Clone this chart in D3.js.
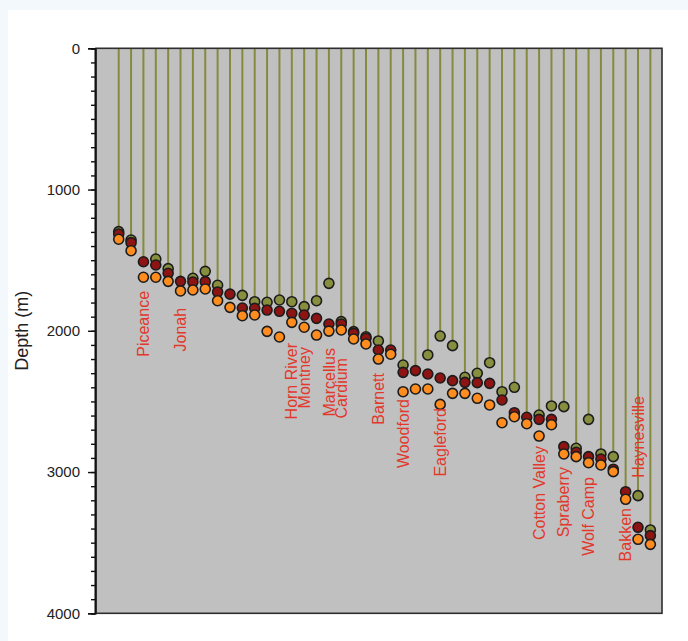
<!DOCTYPE html>
<html>
<head>
<meta charset="utf-8">
<script src="https://cdn.jsdelivr.net/npm/d3@7/dist/d3.min.js"></script>
<style>
  html, body { margin: 0; padding: 0; background: #f3f8fc; }
  svg { display: block; }
  text { font-family: "Liberation Sans", Arial, sans-serif; }
</style>
</head>
<body>
<svg id="chart" width="688" height="641"></svg>
<script>
// Depth (m) of three markers per well; null where a marker is absent
const wells = d3.range(44);
const olive = [1298, 1357, null, 1492, 1560, null, 1628, 1579, 1678, null, 1749, 1794, 1798, 1782,
  1794, 1829, 1787, 1664, 1935, 2006, 2042, 2072, null, 2242, null, 2171, 2037, 2105, 2329, 2301,
  2226, 2431, 2400, null, 2596, 2532, 2537, 2832, 2627, 2872, 2891, null, 3167, 3410];
const darkRed = [1315, 1376, 1511, 1534, 1593, 1650, 1655, 1652, 1725, 1740, 1839, 1841, 1853, 1862,
  1876, 1888, 1912, 1952, 1952, 2018, 2053, 2136, 2136, 2294, 2282, 2306, 2334, 2353, 2365, 2367,
  2372, 2490, 2580, 2612, 2627, 2627, 2820, 2860, 2891, 2908, 2980, 3139, 3391, 3450];
const orange = [1352, 1433, 1621, 1621, 1650, 1718, 1711, 1704, 1787, 1834, 1893, 1888, 2004, 2044,
  1940, 1975, 2030, 2002, 1994, 2058, 2093, 2200, 2166, 2431, 2412, 2412, 2521, 2443, 2443, 2478,
  2525, 2651, 2608, 2658, 2745, 2665, 2872, 2891, 2934, 2950, 2997, 3193, 3476, 3512];

// Play names: well they sit under, and depth where the label text ends
const playNames = ["Piceance", "Jonah", "Horn River", "Montney", "Marcellus", "Cardium", "Barnett",
  "Woodford", "Eagleford", "Cotton Valley", "Spraberry", "Wolf Camp", "Bakken", "Haynesville"];
const playWell = [2, 5, 14, 15, 17, 18, 21, 23, 26, 34, 36, 38, 41, 42];
const playTop = [1718, 1838, 2086, 2115, 2122, 2193, 2299, 2483, 2547, 2816, 2964, 3035, 3255, 2462];

const majorTicks = [0, 1000, 2000, 3000, 4000];
const minorTicks = d3.range(0, 4001, 100);

const svg = d3.select("#chart");
svg.append("rect").attr("x", 8).attr("y", 10).attr("width", 680).attr("height", 631).attr("fill", "#ffffff");

const plotL = 96, plotR = 662, plotT = 48.3, plotB = 613.3;
const x = d3.scaleLinear().domain([-1.836, 43.94]).range([plotL, plotR]);
const y = d3.scaleLinear().domain([0, 4000]).range([plotT, plotB]);

svg.append("rect")
  .attr("x", plotL).attr("y", plotT)
  .attr("width", plotR - plotL).attr("height", plotB - plotT)
  .attr("fill", "#c0c0c0");

// stems from the surface down to the shallowest marker of each well
const shallowest = wells.map(i => d3.min([olive[i], darkRed[i], orange[i]].filter(v => v != null)));
svg.append("g").selectAll("line").data(wells).join("line")
  .attr("x1", i => x(i)).attr("x2", i => x(i))
  .attr("y1", y(0)).attr("y2", i => y(shallowest[i]))
  .attr("stroke", "#858a3e").attr("stroke-width", 2);

const layers = [
  { values: olive, fill: "#878f3f" },
  { values: darkRed, fill: "#8e1414" },
  { values: orange, fill: "#ff8c1e" }
];
layers.forEach(layer => {
  svg.append("g").selectAll("circle")
    .data(wells.filter(i => layer.values[i] != null)).join("circle")
    .attr("cx", i => x(i)).attr("cy", i => y(layer.values[i]))
    .attr("r", 5)
    .attr("fill", layer.fill)
    .attr("stroke", "#1c1c1c").attr("stroke-width", 1.6);
});

// frame
svg.append("rect")
  .attr("x", plotL).attr("y", plotT)
  .attr("width", plotR - plotL).attr("height", plotB - plotT)
  .attr("fill", "none").attr("stroke", "#2e2e2e").attr("stroke-width", 1.6);

// depth axis
const minorAxis = d3.axisLeft(y).tickValues(minorTicks).tickSize(4).tickFormat("");
const majorAxis = d3.axisLeft(y).tickValues(majorTicks).tickSize(7).tickPadding(8).tickFormat(d3.format("d"));
const gMinor = svg.append("g").attr("transform", `translate(${plotL - 1},0)`).call(minorAxis);
const gMajor = svg.append("g").attr("transform", `translate(${plotL - 1},0)`).call(majorAxis);
[gMinor, gMajor].forEach(g => {
  g.select(".domain").attr("stroke", "#111").attr("stroke-width", 1.6);
  g.selectAll(".tick line").attr("stroke", "#111").attr("stroke-width", 1.4);
});
gMajor.selectAll(".tick text")
  .attr("fill", "#222").attr("font-size", 15)
  .style("font-family", "'Liberation Sans', Arial, sans-serif");

svg.append("text")
  .attr("transform", `translate(22,${y(2000)}) rotate(-90)`)
  .attr("text-anchor", "middle").attr("dy", "0.35em")
  .attr("font-size", 18).attr("fill", "#222")
  .text("Depth (m)");

// play names
svg.append("g").selectAll("text").data(playNames).join("text")
  .attr("transform", (d, k) => `translate(${x(playWell[k])},${y(playTop[k])}) rotate(-90)`)
  .attr("text-anchor", "end").attr("dy", "0.35em")
  .attr("font-size", 16).attr("fill", "#e2382c")
  .text(d => d);
</script>
</body>
</html>
